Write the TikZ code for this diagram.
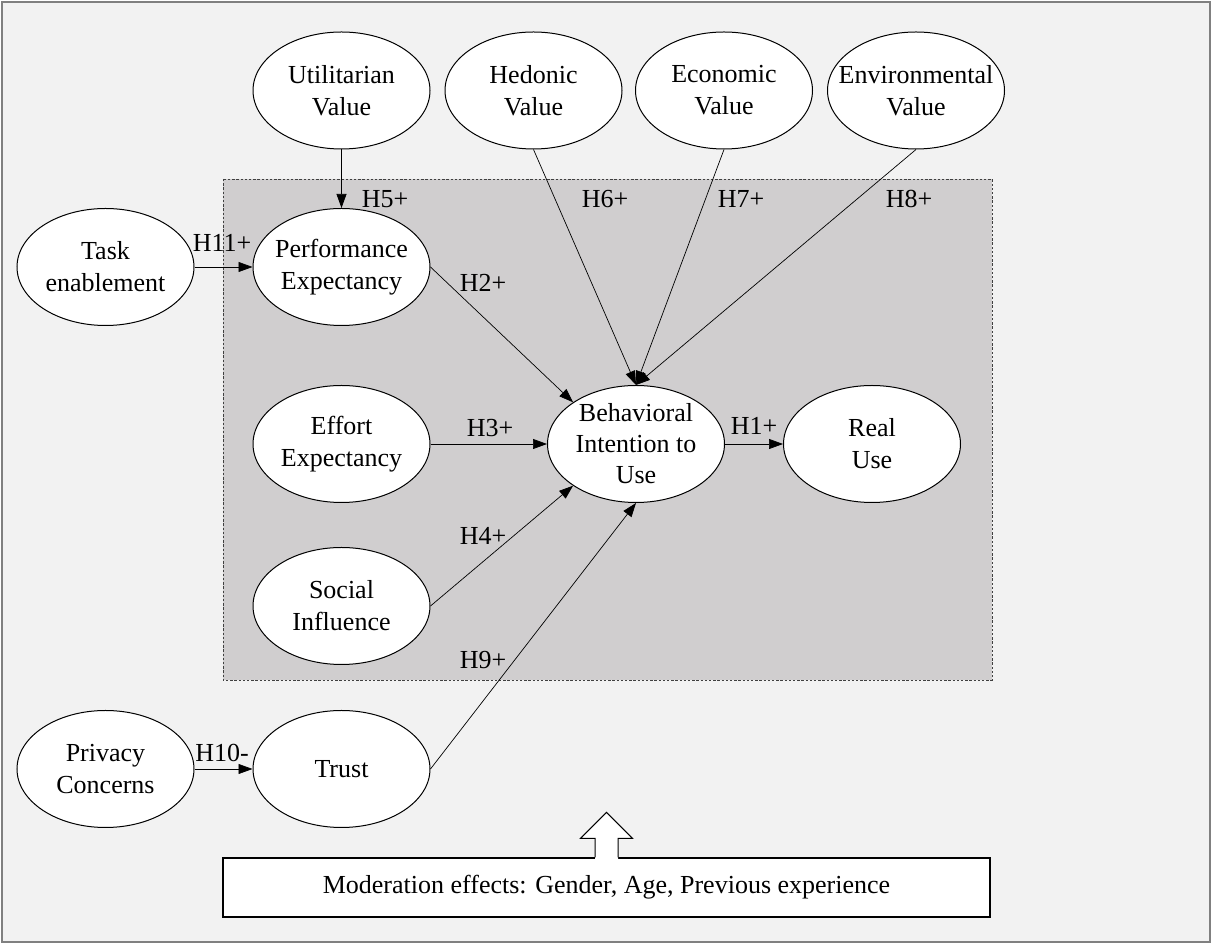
\documentclass[tikz,border=0pt]{standalone}
\usepackage{fontspec}
\setmainfont{Liberation Serif}
\usetikzlibrary{arrows.meta,shapes.geometric}
\definecolor{bgc}{HTML}{F2F2F2}
\definecolor{boxc}{HTML}{D0CECF}
\definecolor{framec}{HTML}{808080}
\begin{document}
\begin{tikzpicture}[x=0.5pt,y=-0.5pt,
  var/.style={ellipse,draw=black,fill=white,line width=0.5pt,minimum width=88.5pt,minimum height=58.5pt,inner xsep=-15pt,inner ysep=0pt,align=center,font=\fontsize{13}{16}\selectfont},
  lab/.style={inner sep=0pt,font=\fontsize{13}{15}\selectfont},
  arr/.style={-{Triangle[length=7pt,width=5pt]},line width=0.35pt,draw=black},
  modbox/.style={draw=black,fill=white,line width=0.6pt,minimum width=383.5pt,minimum height=29.5pt,inner sep=0pt,font=\fontsize{13}{15}\selectfont}]
\useasboundingbox (0,0) rectangle (1212,945);
% background and frame
\draw[framec,fill=bgc,line width=0.9pt] (2,2) rectangle (1210,942);
% grey area
\fill[boxc] (223,179) rectangle (992,680);
\draw[black!75,line width=0.45pt,dash pattern=on 1.2pt off 0.9pt] (223,179) rectangle (992,680);
% constructs
\node[var] (util) at (341.5,90.5) {Utilitarian\\Value};
\node[var] (hed) at (533.5,90.5) {Hedonic\\Value};
\node[var] (eco) at (724,90.5) {Economic\\Value};
\node[var] (env) at (916,90.5) {Environmental\\Value};
\node[var] (task) at (105.5,267) {Task\\enablement};
\node[var] (perf) at (341.5,267) {Performance\\Expectancy};
\node[var] (eff) at (341.5,444) {Effort\\Expectancy};
\node[var] (soc) at (341.5,606) {Social\\Influence};
\node[var,font=\fontsize{13}{15.5}\selectfont] (bi) at (636,444) {Behavioral\\Intention to\\Use};
\node[var] (use) at (872,444) {Real\\Use};
\node[var] (priv) at (105.5,769) {Privacy\\Concerns};
\node[var] (trust) at (341.5,769) {Trust};
% connectors
\draw[arr] (util.south) -- (perf.north);
\draw[arr] (task.east) -- (perf.west);
\draw[arr] (perf.east) -- (bi.north west);
\draw[arr] (hed.south) -- (bi.north);
\draw[arr] (eco.south) -- (bi.north);
\draw[arr] (env.south) -- (bi.north);
\draw[arr] (eff.east) -- (bi.west);
\draw[arr] (soc.east) -- (bi.south west);
\draw[arr] (trust.east) -- (bi.south);
\draw[arr] (priv.east) -- (trust.west);
\draw[arr] (bi.east) -- (use.west);
% labels
\node[lab] (l5) at (385,199) {H5+};
\node[lab] (l11) at (222,243) {H11+};
\node[lab] (l2) at (483,283) {H2+};
\node[lab] (l6) at (605,199) {H6+};
\node[lab] (l7) at (741,199) {H7+};
\node[lab] (l8) at (909,199) {H8+};
\node[lab] (l3) at (490,428) {H3+};
\node[lab] (l4) at (483,536) {H4+};
\node[lab] (l9) at (483,660) {H9+};
\node[lab] (l10) at (222,753) {H10-};
\node[lab] (l1) at (754,426) {H1+};
% moderation
\node[modbox] (mod) at (606.5,887.5) {Moderation effects: Gender, Age, Previous experience};
\fill[white] (mod.north) ++(-11.5,2) -- ++(0,-21) -- ++(-14.5,0) -- ++(26,-26) -- ++(26,26) -- ++(-14.5,0) -- ++(0,21) -- cycle;
\draw[black,line width=0.5pt] (mod.north) ++(-11.5,0) -- ++(0,-19) -- ++(-14.5,0) -- ++(26,-26) -- ++(26,26) -- ++(-14.5,0) -- ++(0,19);
\end{tikzpicture}
\end{document}
